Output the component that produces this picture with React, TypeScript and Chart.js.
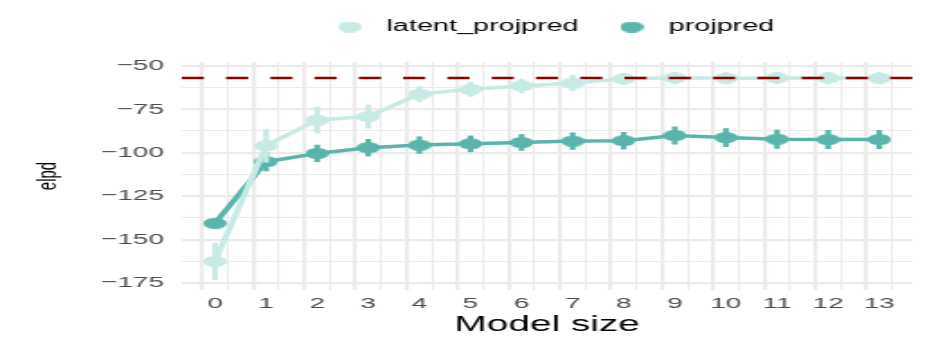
import React, { useEffect, useRef } from 'react';
import { Chart, registerables } from 'chart.js';

Chart.register(...registerables);

// ---- data ----
const modelSizes = [0, 1, 2, 3, 4, 5, 6, 7, 8, 9, 10, 11, 12, 13];
const latentElpd = [-162.5, -96, -81.2, -79.2, -66.3, -63.5, -61.6, -59.9, -57.5, -56.9, -57.1, -57, -57, -57.1];
const latentSe = [10.5, 9.5, 7.5, 6.7, 4.3, 4, 4, 4.5, 3.3, 3.3, 3.3, 3.3, 3.3, 3.3];
const projpredElpd = [-140.6, -105.2, -100.4, -97.1, -95.6, -94.9, -94.1, -93.3, -93.1, -90.1, -91.3, -92.2, -92.4, -92.4];
const projpredSe = [2.5, 5.3, 4.8, 4.8, 4.8, 4.6, 4.6, 4.8, 4.8, 5, 5.2, 5.3, 5.3, 5.3];
const referenceElpd = -57;
const xTickLabels = ['0', '1', '2', '3', '4', '5', '6', '7', '8', '9', '10', '11', '12', '13'];
const yTickValues = [-175, -150, -125, -100, -75, -50];
const yTickLabels = ['\u2212175', '\u2212150', '\u2212125', '\u2212100', '\u221275', '\u221250'];
const seriesNames = ['latent_projpred', 'projpred'];

// ---- style ----
const LIGHT = '#C7EAE5';
const DARK = '#5AB4AC';
const REF = '#8B0000';
const GRID = '#EBEBEB';
const CANVAS_W = 519;
const OUT_W = 934;
const H = 345;
const X_MIN = -0.65;
const X_MAX = 13.65;
const Y_MIN = -179;
const Y_MAX = -47.8;
const LEGEND_EXTRA = 17;
const LEGEND_SHIFT = 2;

function ellipseImage(color: string) {
  const c = document.createElement('canvas');
  c.width = 13;
  c.height = 11;
  const g = c.getContext('2d')!;
  g.fillStyle = color;
  g.beginPath();
  g.ellipse(6.5, 5.5, 6.5, 5.5, 0, 0, Math.PI * 2);
  g.fill();
  return c;
}

const legendPlace = {
  id: 'legendPlace',
  beforeLayout(chart: any) {
    const lg: any = chart.legend;
    if (!lg || lg.__patched) return;
    lg.__patched = true;
    const origFit = lg.fit;
    lg.fit = function (this: any) {
      origFit.call(this);
      if (this.height) this.height += LEGEND_EXTRA;
    };
    const origDraw = lg.draw;
    lg.draw = function (this: any, ...args: any[]) {
      const ca = chart.chartArea;
      const pad = this.options.labels.padding;
      const lw = this.lineWidths[0];
      const total = lw - pad;
      const cx = (ca.left + ca.right) / 2 + LEGEND_SHIFT;
      const xs = cx - total / 2;
      this.lineWidths[0] = this.left + pad + this.right - 2 * xs;
      origDraw.apply(this, args);
      this.lineWidths[0] = lw;
    };
  },
};

export default function App() {
  const ref = useRef<HTMLCanvasElement | null>(null);

  useEffect(() => {
    document.body.style.margin = '0';
    const canvas = ref.current!;
    Chart.defaults.font.family = "'Liberation Sans', Arial, sans-serif";

    const xGrid: number[] = [];
    for (let v = -0.5; v <= 13.5; v += 0.5) xGrid.push(v);
    const yGrid: number[] = [];
    for (let v = -175; v <= -50; v += 12.5) yGrid.push(v);

    const lightImg = ellipseImage(LIGHT);
    const darkImg = ellipseImage(DARK);

    const chart = new Chart(canvas, {
      type: 'line',
      data: {
        datasets: [
          {
            type: 'line',
            label: seriesNames[0],
            data: modelSizes.map((x, i) => ({ x, y: latentElpd[i] })),
            borderColor: LIGHT,
            backgroundColor: LIGHT,
            borderWidth: 3.5,
            pointStyle: lightImg as any,
            pointRadius: 6,
            order: 1,
          },
          {
            type: 'line',
            label: seriesNames[1],
            data: modelSizes.map((x, i) => ({ x, y: projpredElpd[i] })),
            borderColor: DARK,
            backgroundColor: DARK,
            borderWidth: 3.5,
            pointStyle: darkImg as any,
            pointRadius: 6,
            order: 3,
          },
          {
            type: 'bar',
            label: 'latent_se',
            data: modelSizes.map((x, i) => ({ x, y: [latentElpd[i] - latentSe[i], latentElpd[i] + latentSe[i]] })) as any,
            backgroundColor: LIGHT,
            grouped: false,
            barThickness: 2.5,
            maxBarThickness: 2.5,
            borderWidth: 0,
            order: 2,
          } as any,
          {
            type: 'bar',
            label: 'projpred_se',
            data: modelSizes.map((x, i) => ({ x, y: [projpredElpd[i] - projpredSe[i], projpredElpd[i] + projpredSe[i]] })) as any,
            backgroundColor: DARK,
            grouped: false,
            barThickness: 2.5,
            maxBarThickness: 2.5,
            borderWidth: 0,
            order: 4,
          } as any,
          {
            type: 'line',
            label: 'reference',
            data: [
              { x: X_MIN, y: referenceElpd },
              { x: X_MAX, y: referenceElpd },
            ],
            borderColor: REF,
            borderWidth: 2.7,
            borderDash: [12.3, 12.3],
            pointRadius: 0,
            order: 0,
          },
        ],
      },
      options: {
        animation: false,
        responsive: false,
        maintainAspectRatio: false,
        devicePixelRatio: 1,
        events: [],
        layout: { padding: { top: 2, right: 12, bottom: 0, left: 0 } },
        plugins: {
          tooltip: { enabled: false },
          legend: {
            position: 'top',
            labels: {
              usePointStyle: true,
              pointStyleWidth: 25,
              padding: 17,
              color: '#000',
              font: { size: 16 },
              filter: (item: any) => seriesNames.includes(item.text),
            },
          },
        },
        scales: {
          x: {
            type: 'linear',
            min: X_MIN,
            max: X_MAX,
            offset: false,
            afterBuildTicks: (s: any) => {
              s.ticks = xGrid.map((v) => ({ value: v }));
            },
            afterFit: (s: any) => {
              s.height = 55;
            },
            grid: {
              color: GRID,
              lineWidth: (c: any) => (Number.isInteger(c.tick?.value) ? 2.2 : 1.1),
              drawTicks: false,
            },
            border: { display: false },
            ticks: {
              autoSkip: false,
              maxRotation: 0,
              padding: 4,
              color: '#4D4D4D',
              font: { size: 15.5 },
              callback: (v: any) => {
                const i = modelSizes.indexOf(Number(v));
                return i >= 0 ? xTickLabels[i] : '';
              },
            },
            title: {
              display: true,
              text: 'Model size',
              color: '#000',
              font: { size: 21.5 },
              padding: { top: 0, bottom: 7 },
            },
          },
          y: {
            type: 'linear',
            min: Y_MIN,
            max: Y_MAX,
            afterBuildTicks: (s: any) => {
              s.ticks = yGrid.map((v) => ({ value: v }));
            },
            afterFit: (s: any) => {
              s.width = 101;
            },
            grid: {
              color: GRID,
              lineWidth: (c: any) => (c.tick && c.tick.value % 25 === 0 ? 2.2 : 1.1),
              drawTicks: false,
            },
            border: { display: false },
            ticks: {
              autoSkip: false,
              padding: 10,
              color: '#4D4D4D',
              font: { size: 15.5 },
              callback: (v: any) => {
                const i = yTickValues.indexOf(Number(v));
                return i >= 0 ? yTickLabels[i] : '';
              },
            },
            title: {
              display: true,
              text: 'elpd',
              color: '#000',
              font: { size: 15 },
              padding: { top: 18, bottom: 0 },
            },
          },
        },
      },
      plugins: [legendPlace],
    });

    return () => chart.destroy();
  }, []);

  return (
    <canvas
      ref={ref}
      width={CANVAS_W}
      height={H}
      style={{ width: OUT_W + 'px', height: H + 'px', display: 'block' }}
    />
  );
}
